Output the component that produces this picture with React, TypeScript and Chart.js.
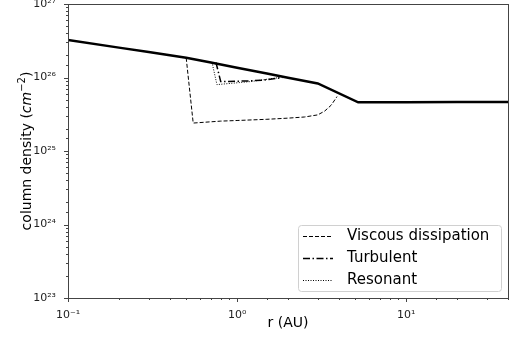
import React, { useEffect, useRef } from "react";
import { Chart, registerables } from "chart.js";
Chart.register(...registerables);

const solidR = [0.1, 0.2, 0.3, 0.5, 0.7, 1, 1.5, 2, 3, 5.2, 10, 20, 40];
const solidN = [3.24e26, 2.55e26, 2.22e26, 1.86e26, 1.6e26, 1.36e26, 1.13e26, 9.9e25, 8.3e25, 4.6e25, 4.62e25, 4.65e25, 4.65e25];

const viscR = [0.5, 0.55, 0.8, 1, 1.5, 2, 2.5, 3, 3.3, 3.6, 3.9];
const viscN = [1.85e26, 2.4e25, 2.55e25, 2.6e25, 2.7e25, 2.8e25, 2.9e25, 3.1e25, 3.5e25, 4.2e25, 5.5e25];

const turbR = [0.75, 0.8, 1.2, 1.5, 1.85];
const turbN = [1.6e26, 8.8e25, 9.0e25, 9.3e25, 1.0e26];

const resR = [0.71, 0.76, 1.2, 1.78];
const resN = [1.62e26, 8.0e25, 8.8e25, 1.0e26];

const legendLabels = ["Viscous dissipation", "Turbulent", "Resonant"];
const xTitle = "r (AU)";
const xMin = 0.1, xMax = 40, yMin = 1e23, yMax = 1e27;

const SUP: Record<string, string> = { "-": "⁻", "0": "⁰", "1": "¹", "2": "²", "3": "³", "4": "⁴", "5": "⁵", "6": "⁶", "7": "⁷", "8": "⁸", "9": "⁹" };
const isPow10 = (v: number) => {
  const l = Math.log10(v);
  return Math.abs(l - Math.round(l)) < 1e-6;
};
const pow10Label = (v: number) => {
  if (!isPow10(v)) return "";
  return "10" + String(Math.round(Math.log10(v))).split("").map((c) => SUP[c]).join("");
};
const tickCallback = (v: any, i: number, ticks: any[]) => {
  const val = Number(ticks[i].value);
  if (i > 0 && Math.abs(Math.log10(ticks[i - 1].value) - Math.log10(val)) < 1e-6) return "";
  return pow10Label(val);
};
const pts = (r: number[], n: number[]) => r.map((x, i) => ({ x, y: n[i] }));

const FONT = "'DejaVu Sans', sans-serif";

const decorPlugin = {
  id: "decor",
  afterDraw(chart: any) {
    const ctx = chart.ctx;
    const a = chart.chartArea;
    ctx.save();
    ctx.strokeStyle = "#444";
    ctx.lineWidth = 1;
    ctx.strokeRect(Math.round(a.left) + 0.5, Math.round(a.top) + 0.5, Math.round(a.right - a.left), Math.round(a.bottom - a.top));
    const xs = chart.scales.x, ys = chart.scales.y;
    ctx.beginPath();
    for (const t of xs.ticks) {
      const px = Math.round(xs.getPixelForValue(t.value)) + 0.5;
      const major = isPow10(t.value);
      ctx.moveTo(px, a.bottom);
      ctx.lineTo(px, a.bottom + (major ? 4 : 2));
    }
    for (const t of ys.ticks) {
      const py = Math.round(ys.getPixelForValue(t.value)) + 0.5;
      const major = isPow10(t.value);
      ctx.moveTo(a.left, py);
      ctx.lineTo(a.left - (major ? 4 : 2), py);
    }
    ctx.stroke();

    ctx.fillStyle = "#000";
    ctx.font = "14px " + FONT;
    ctx.textAlign = "center";
    ctx.textBaseline = "middle";
    ctx.fillText(xTitle, (a.left + a.right) / 2, 323);

    ctx.save();
    ctx.translate(26, (a.top + a.bottom) / 2);
    ctx.rotate(-Math.PI / 2);
    const p1 = "column density (";
    const p2 = "cm";
    const p3 = "−2";
    const p4 = ")";
    ctx.font = "14px " + FONT;
    const w1 = ctx.measureText(p1).width;
    const w4 = ctx.measureText(p4).width;
    ctx.font = "italic 14px " + FONT;
    const w2 = ctx.measureText(p2).width;
    ctx.font = "10px " + FONT;
    const w3 = ctx.measureText(p3).width;
    let x = -(w1 + w2 + w3 + w4) / 2;
    ctx.textAlign = "left";
    ctx.textBaseline = "alphabetic";
    ctx.font = "14px " + FONT;
    ctx.fillText(p1, x, 5); x += w1;
    ctx.font = "italic 14px " + FONT;
    ctx.fillText(p2, x, 5); x += w2;
    ctx.font = "10px " + FONT;
    ctx.fillText(p3, x, -1); x += w3;
    ctx.font = "14px " + FONT;
    ctx.fillText(p4, x, 5);
    ctx.restore();

    const lx = 298, ly = 225, lw = 203, lh = 66;
    ctx.beginPath();
    ctx.roundRect(lx + 0.5, ly + 0.5, lw, lh, 3);
    ctx.fillStyle = "rgba(255,255,255,0.85)";
    ctx.fill();
    ctx.strokeStyle = "#d0d0d0";
    ctx.stroke();
    const ds = chart.data.datasets.slice(1);
    ctx.font = "15px " + FONT;
    ctx.textBaseline = "middle";
    ctx.textAlign = "left";
    legendLabels.forEach((lab, i) => {
      const cy = 236 + i * 22;
      const d = ds[i];
      ctx.beginPath();
      ctx.setLineDash(d.borderDash || []);
      ctx.lineWidth = d.borderWidth;
      ctx.strokeStyle = "#000";
      ctx.moveTo(303, cy + 0.5);
      ctx.lineTo(333, cy + 0.5);
      ctx.stroke();
      ctx.setLineDash([]);
      ctx.fillStyle = "#000";
      ctx.fillText(lab, 347, cy);
    });
    ctx.restore();
  },
};

export default function App() {
  const ref = useRef<HTMLCanvasElement>(null);
  useEffect(() => {
    document.body.style.margin = "0";
    const chart = new Chart(ref.current!, {
      type: "scatter",
      data: {
        datasets: [
          { data: pts(solidR, solidN), showLine: true, borderColor: "#000", borderWidth: 2.5, pointRadius: 0, tension: 0 },
          { data: pts(viscR, viscN), showLine: true, borderColor: "#000", borderWidth: 1, borderDash: [4, 2], pointRadius: 0, tension: 0 },
          { data: pts(turbR, turbN), showLine: true, borderColor: "#000", borderWidth: 1.5, borderDash: [7, 2.5, 1.5, 2.5], pointRadius: 0, tension: 0 },
          { data: pts(resR, resN), showLine: true, borderColor: "#000", borderWidth: 1, borderDash: [1, 1.5], pointRadius: 0, tension: 0 },
        ],
      },
      options: {
        animation: false,
        responsive: false,
        layout: { padding: { top: 4, right: 4, left: 0, bottom: 0 } },
        plugins: { legend: { display: false }, tooltip: { enabled: false } },
        scales: {
          x: {
            type: "logarithmic",
            min: xMin,
            max: xMax,
            grid: { display: false },
            border: { display: false },
            ticks: {
              autoSkip: false,
              maxRotation: 0,
              padding: 3,
              color: "#222",
              font: { size: 11, family: FONT },
              callback: tickCallback,
            },
            afterFit: (s: any) => { s.height = 42; s.paddingLeft = 0; s.paddingRight = 0; },
          },
          y: {
            type: "logarithmic",
            min: yMin,
            max: yMax,
            grid: { display: false },
            border: { display: false },
            ticks: {
              autoSkip: false,
              padding: 4,
              color: "#222",
              font: { size: 11, family: FONT },
              callback: tickCallback,
            },
            afterFit: (s: any) => { s.width = 68; s.paddingTop = 0; s.paddingBottom = 0; },
          },
        },
      },
      plugins: [decorPlugin],
    } as any);
    return () => chart.destroy();
  }, []);
  return <canvas ref={ref} width={512} height={340} style={{ display: "block" }} />;
}
